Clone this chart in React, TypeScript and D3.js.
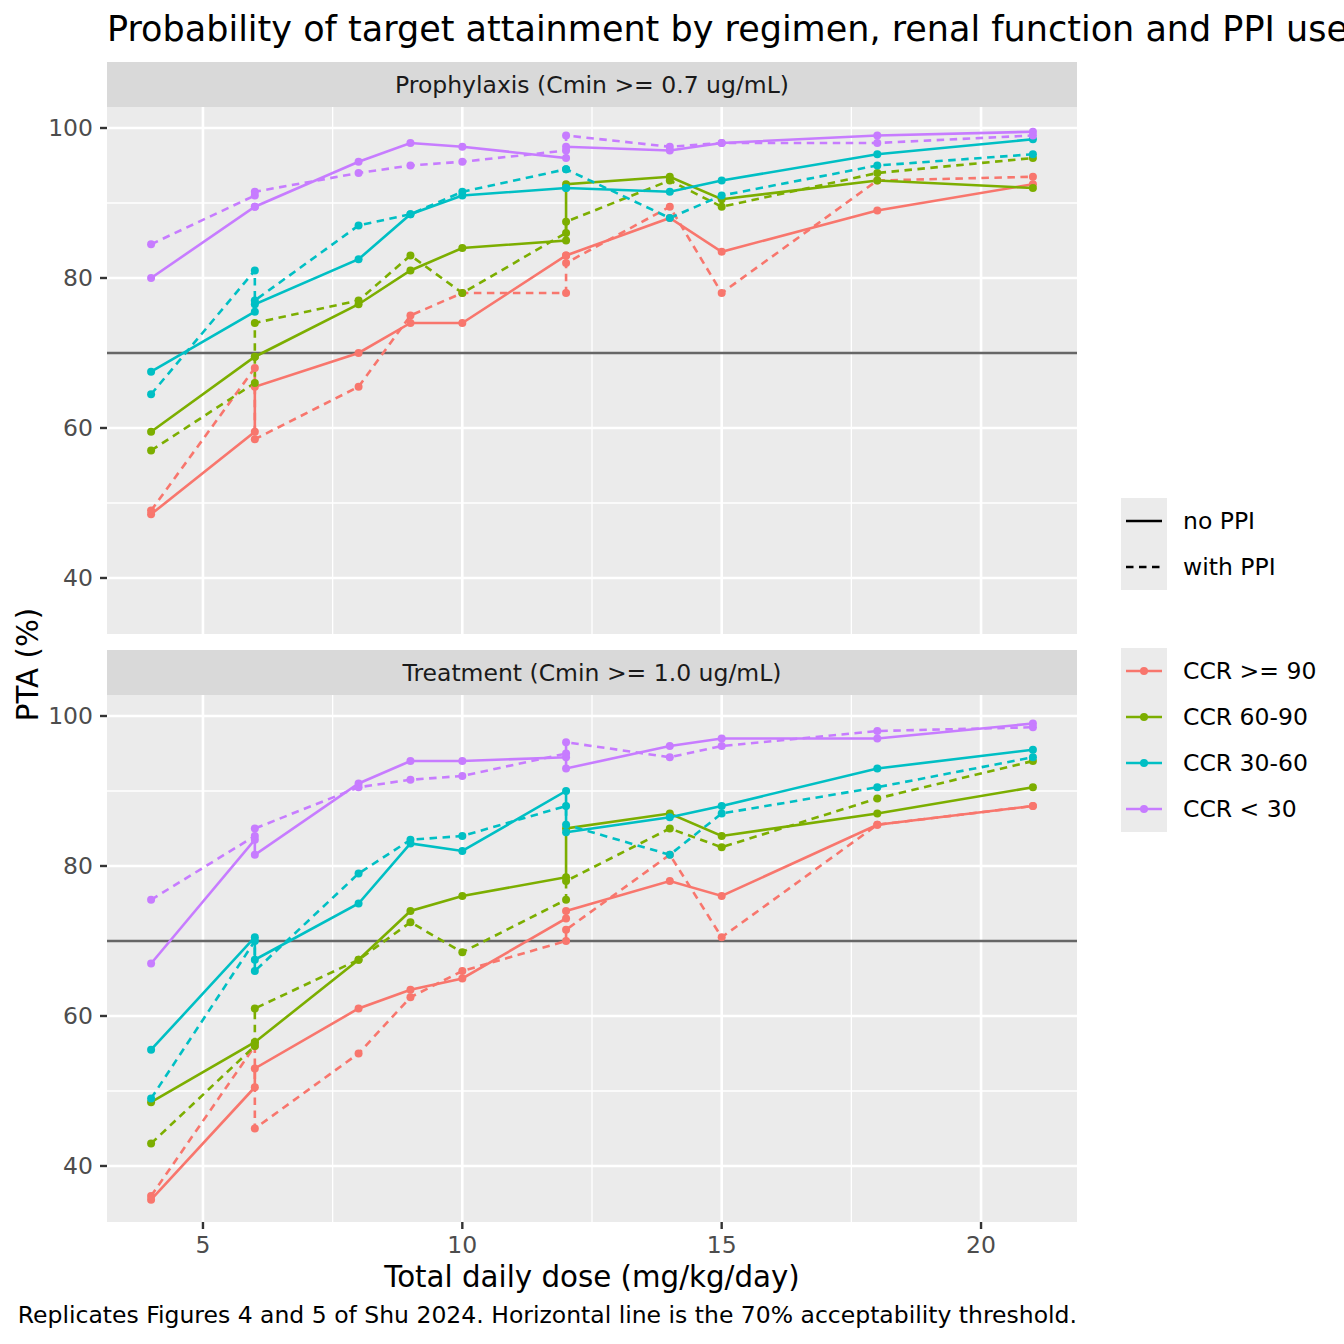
import * as d3 from 'd3';

// shared dose grid (two regimens land on 6 and on 12 mg/kg/day)
const doses = [4, 6, 6, 8, 9, 10, 12, 12, 14, 15, 18, 21];

const ccrGroups = ['CCR >= 90', 'CCR 60-90', 'CCR 30-60', 'CCR < 30'];
const ccrColors = ['#F8766D', '#7CAE00', '#00BFC4', '#C77CFF'];
const ppiLabels = ['no PPI', 'with PPI'];
const panelTitles = ['Prophylaxis (Cmin >= 0.7 ug/mL)', 'Treatment (Cmin >= 1.0 ug/mL)'];

// Prophylaxis, rows follow ccrGroups
const prophNoPpi = [
  [48.5, 59.5, 65.5, 70, 74, 74, 83, 83, 88, 83.5, 89, 92.5],
  [59.5, 69.5, 69.5, 76.5, 81, 84, 85, 92.5, 93.5, 90.5, 93, 92],
  [67.5, 75.5, 76.5, 82.5, 88.5, 91, 92, 92, 91.5, 93, 96.5, 98.5],
  [80, 89.5, 89.5, 95.5, 98, 97.5, 96, 97.5, 97, 98, 99, 99.5],
];
const prophPpi = [
  [49, 68, 58.5, 65.5, 75, 78, 78, 82, 89.5, 78, 93, 93.5],
  [57, 66, 74, 77, 83, 78, 86, 87.5, 93, 89.5, 94, 96],
  [64.5, 81, 77, 87, 88.5, 91.5, 94.5, 94.5, 88, 91, 95, 96.5],
  [84.5, 91, 91.5, 94, 95, 95.5, 97, 99, 97.5, 98, 98, 99],
];

// Treatment
const treatNoPpi = [
  [35.5, 50.5, 53, 61, 63.5, 65, 73, 74, 78, 76, 85.5, 88],
  [48.5, 56.5, 56.5, 67.5, 74, 76, 78.5, 85, 87, 84, 87, 90.5],
  [55.5, 70.5, 67.5, 75, 83, 82, 90, 84.5, 86.5, 88, 93, 95.5],
  [67, 83.5, 81.5, 91, 94, 94, 94.5, 93, 96, 97, 97, 99],
];
const treatPpi = [
  [36, 56, 45, 55, 62.5, 66, 70, 71.5, 81.5, 70.5, 85.5, 88],
  [43, 56, 61, 67.5, 72.5, 68.5, 75.5, 78, 85, 82.5, 89, 94],
  [49, 70, 66, 79, 83.5, 84, 88, 85.5, 81.5, 87, 90.5, 94.5],
  [75.5, 84, 85, 90.5, 91.5, 92, 95, 96.5, 94.5, 96, 98, 98.5],
];

const xTicks = [5, 10, 15, 20];
const xMinor = [7.5, 12.5, 17.5];
const yTicks = [40, 60, 80, 100];
const yMinor = [50, 70, 90];
const threshold = 70;

const W = 1344;
const H = 1344;
const FONT = 'DejaVu Sans';
const SMALL = 23.5;
const panelLeft = 107;
const panelRight = 1077;
const panels = [
  { stripTop: 62, top: 107, bottom: 634, series: [prophNoPpi, prophPpi] },
  { stripTop: 650, top: 695, bottom: 1222, series: [treatNoPpi, treatPpi] },
];
const lw = 2.6;
const dashes = '7.5,5.5';

const x = d3.scaleLinear().domain([3.15, 21.85]).range([panelLeft, panelRight]);

export default function App() {
  return (
    <svg
      width={W}
      height={H}
      style={{ position: 'absolute', left: 0, top: 0, background: '#fff' }}
      fontFamily={FONT}
    >
      <rect width={W} height={H} fill="#fff" />
      <text x={107} y={41} fontSize={35} fill="#000">
        Probability of target attainment by regimen, renal function and PPI use
      </text>

      {panels.map((p, pi) => {
        const y = d3.scaleLinear().domain([32.53, 102.8]).range([p.bottom, p.top]);
        const line = d3.line<[number, number]>()
          .x(d => x(d[0]))
          .y(d => y(d[1]));
        return (
          <g key={pi}>
            <rect x={panelLeft} y={p.stripTop} width={panelRight - panelLeft} height={p.top - p.stripTop} fill="#D9D9D9" />
            <text x={(panelLeft + panelRight) / 2} y={(p.stripTop + p.top) / 2} textAnchor="middle"
              dominantBaseline="central" fontSize={SMALL} fill="#1A1A1A">{panelTitles[pi]}</text>
            <rect x={panelLeft} y={p.top} width={panelRight - panelLeft} height={p.bottom - p.top} fill="#EBEBEB" />
            {yMinor.map(v => (
              <line key={'ym' + v} x1={panelLeft} x2={panelRight} y1={y(v)} y2={y(v)} stroke="#fff" strokeWidth={1.3} />
            ))}
            {xMinor.map(v => (
              <line key={'xm' + v} x1={x(v)} x2={x(v)} y1={p.top} y2={p.bottom} stroke="#fff" strokeWidth={1.3} />
            ))}
            {yTicks.map(v => (
              <line key={'y' + v} x1={panelLeft} x2={panelRight} y1={y(v)} y2={y(v)} stroke="#fff" strokeWidth={2.6} />
            ))}
            {xTicks.map(v => (
              <line key={'x' + v} x1={x(v)} x2={x(v)} y1={p.top} y2={p.bottom} stroke="#fff" strokeWidth={2.6} />
            ))}
            <line x1={panelLeft} x2={panelRight} y1={y(threshold)} y2={y(threshold)} stroke="#666666" strokeWidth={lw} />

            {/* lines */}
            {ccrGroups.map((_, ci) =>
              p.series.map((rows, si) => (
                <path key={`l${ci}-${si}`}
                  d={line(doses.map((d, k) => [d, rows[ci][k]] as [number, number])) || ''}
                  fill="none" stroke={ccrColors[ci]} strokeWidth={lw}
                  strokeDasharray={si === 1 ? dashes : undefined} />
              ))
            )}
            {/* points */}
            {ccrGroups.map((_, ci) =>
              p.series.map((rows, si) =>
                doses.map((d, k) => (
                  <circle key={`p${ci}-${si}-${k}`} cx={x(d)} cy={y(rows[ci][k])} r={4} fill={ccrColors[ci]} />
                ))
              )
            )}

            {/* y axis */}
            {yTicks.map(v => (
              <g key={'yt' + v}>
                <line x1={panelLeft - 7} x2={panelLeft} y1={y(v)} y2={y(v)} stroke="#333333" strokeWidth={2.4} />
                <text x={panelLeft - 14} y={y(v)} textAnchor="end" dominantBaseline="central"
                  fontSize={SMALL} fill="#4D4D4D">{v}</text>
              </g>
            ))}
            {/* x axis only under the bottom panel */}
            {pi === panels.length - 1 && xTicks.map(v => (
              <g key={'xt' + v}>
                <line x1={x(v)} x2={x(v)} y1={p.bottom} y2={p.bottom + 7} stroke="#333333" strokeWidth={2.4} />
                <text x={x(v)} y={p.bottom + 30.5} textAnchor="middle" fontSize={SMALL} fill="#4D4D4D">{v}</text>
              </g>
            ))}
          </g>
        );
      })}

      <text x={(panelLeft + panelRight) / 2} y={1287} textAnchor="middle" fontSize={29.3} fill="#000">
        Total daily dose (mg/kg/day)
      </text>
      <text transform={`translate(37.5,${(107 + 1222) / 2}) rotate(-90)`} textAnchor="middle" fontSize={29.3} fill="#000">
        PTA (%)
      </text>
      <text x={panelRight} y={1322.5} textAnchor="end" fontSize={SMALL} fill="#000">
        Replicates Figures 4 and 5 of Shu 2024. Horizontal line is the 70% acceptability threshold.
      </text>

      {/* linetype legend */}
      <rect x={1121} y={498} width={46} height={92} fill="#EBEBEB" />
      {ppiLabels.map((lab, i) => (
        <g key={lab}>
          <line x1={1126} x2={1162} y1={521 + i * 46} y2={521 + i * 46} stroke="#000" strokeWidth={lw}
            strokeDasharray={i === 1 ? dashes : undefined} />
          <text x={1183} y={521 + i * 46} dominantBaseline="central" fontSize={SMALL} fill="#000">{lab}</text>
        </g>
      ))}

      {/* colour legend */}
      <rect x={1121} y={648} width={46} height={184} fill="#EBEBEB" />
      {ccrGroups.map((lab, i) => (
        <g key={lab}>
          <line x1={1126} x2={1162} y1={671 + i * 46} y2={671 + i * 46} stroke={ccrColors[i]} strokeWidth={lw} />
          <circle cx={1144} cy={671 + i * 46} r={4} fill={ccrColors[i]} />
          <text x={1183} y={671 + i * 46} dominantBaseline="central" fontSize={SMALL} fill="#000">{lab}</text>
        </g>
      ))}
    </svg>
  );
}
